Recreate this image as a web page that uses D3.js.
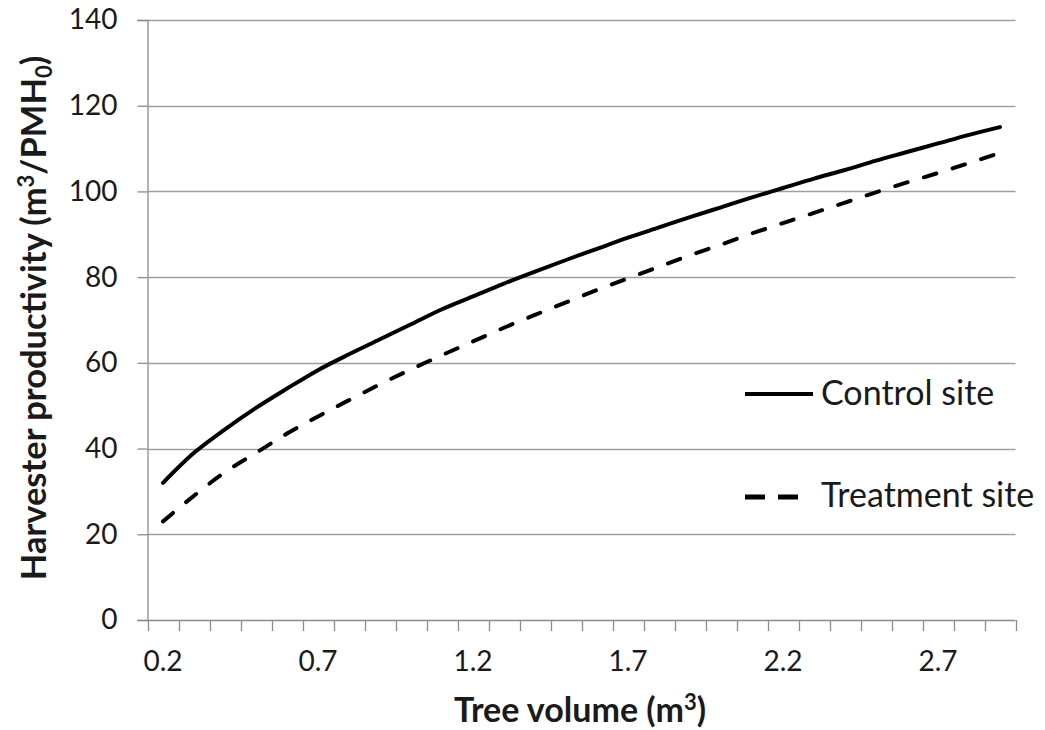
<!DOCTYPE html>
<html>
<head>
<meta charset="utf-8">
<script src="https://cdn.jsdelivr.net/npm/d3@7"></script>
<style>
  body { margin: 0; background: #fff; }
  text { font-family: Lato, "Open Sans", sans-serif; fill: #1a1a1a; }
</style>
</head>
<body>
<svg id="chart" width="1045" height="730"></svg>
<script>
const categories = ["0.2","0.3","0.4","0.5","0.6","0.7","0.8","0.9","1.0","1.1","1.2","1.3","1.4","1.5",
  "1.6","1.7","1.8","1.9","2.0","2.1","2.2","2.3","2.4","2.5","2.6","2.7","2.8","2.9"];
const xTickLabels = ["0.2","0.7","1.2","1.7","2.2","2.7"];
const controlSite = [32,39,44.5,49.5,54,58.3,62,65.5,69,72.5,75.5,78.5,81.3,84,86.6,89.2,91.6,94,96.3,98.6,100.8,103,105,107.2,109.2,111.2,113.2,115];
const treatmentSite = [23,29,34.5,39,43.5,47.5,51.3,55,58.5,61.8,65,68.2,71.2,74.1,77,79.7,82.4,85.1,87.6,90.2,92.6,95,97.4,99.8,102.1,104.3,106.6,109];
const yTicks = [0,20,40,60,80,100,120,140];

const svg = d3.select("#chart");
const L = 147.5, R = 1015.5, T = 20, B = 620;

const x = d3.scaleBand().domain(categories).range([L, R]);
const y = d3.scaleLinear().domain([0, 140]).range([B, T]);

// gridlines
svg.append("g").selectAll("line").data(yTicks.filter(d => d > 0)).join("line")
  .attr("x1", L).attr("x2", R)
  .attr("y1", d => Math.round(y(d)) + 0.5).attr("y2", d => Math.round(y(d)) + 0.5)
  .attr("stroke", "#a0a0a0").attr("stroke-width", 1.3);

// y axis
const yAxis = svg.append("g").attr("transform", `translate(${L},0)`)
  .call(d3.axisLeft(y).tickValues(yTicks).tickSize(10).tickPadding(20).tickFormat(d3.format("d")));
yAxis.select(".domain").attr("stroke", "#8c8c8c").attr("stroke-width", 1.3);
yAxis.selectAll(".tick line").attr("stroke", "#8c8c8c").attr("stroke-width", 1.3);
yAxis.selectAll(".tick text").attr("font-size", 28).attr("font-family", "Lato, 'Open Sans', sans-serif").attr("fill", "#1a1a1a");

// x axis: ticks at band boundaries
const xAxisG = svg.append("g").attr("transform", `translate(0,${B})`);
xAxisG.append("line").attr("x1", L).attr("x2", R).attr("y1", 0.5).attr("y2", 0.5)
  .attr("stroke", "#8c8c8c").attr("stroke-width", 1.3);
const boundaries = categories.map(c => x(c)).concat([x(categories[categories.length - 1]) + x.bandwidth()]);
xAxisG.selectAll("line.tk").data(boundaries).join("line").attr("class", "tk")
  .attr("x1", d => Math.round(d) + 0.5).attr("x2", d => Math.round(d) + 0.5)
  .attr("y1", 0).attr("y2", 11).attr("stroke", "#8c8c8c").attr("stroke-width", 1.3);
xAxisG.selectAll("text").data(xTickLabels).join("text")
  .attr("x", d => x(d) + x.bandwidth() / 2).attr("y", 51)
  .attr("text-anchor", "middle").attr("font-size", 28).text(d => d);

// lines
const line = d3.line().x((d, i) => x(categories[i]) + x.bandwidth() / 2).y(d => y(d)).curve(d3.curveMonotoneX);
svg.append("path").datum(controlSite).attr("d", line)
  .attr("fill", "none").attr("stroke", "#000").attr("stroke-width", 4).attr("stroke-linecap", "round");
svg.append("path").datum(treatmentSite).attr("d", line)
  .attr("fill", "none").attr("stroke", "#000").attr("stroke-width", 4)
  .attr("stroke-dasharray", "13,17").attr("stroke-linecap", "round");

// legend
const leg = svg.append("g");
leg.append("line").attr("x1", 745).attr("x2", 813).attr("y1", 394).attr("y2", 394)
  .attr("stroke", "#000").attr("stroke-width", 4);
leg.append("text").attr("x", 821).attr("y", 405).attr("font-size", 34).text("Control site");
leg.append("line").attr("x1", 745).attr("x2", 798).attr("y1", 497).attr("y2", 497)
  .attr("stroke", "#000").attr("stroke-width", 5).attr("stroke-dasharray", "20,13");
leg.append("text").attr("x", 821).attr("y", 507).attr("font-size", 34).text("Treatment site");

// axis titles
const xt = svg.append("text").attr("x", 580).attr("y", 722).attr("text-anchor", "middle")
  .attr("font-size", 34).attr("font-weight", "bold");
xt.append("tspan").text("Tree volume (m");
xt.append("tspan").attr("font-size", 22).attr("dy", -12).text("3");
xt.append("tspan").attr("dy", 12).text(")");

const yt = svg.append("text").attr("transform", "translate(46,318) rotate(-90)").attr("text-anchor", "middle")
  .attr("font-size", 34.5).attr("font-weight", "bold");
yt.append("tspan").text("Harvester productivity (m");
yt.append("tspan").attr("font-size", 22).attr("dy", -12).text("3");
yt.append("tspan").attr("dy", 12).text("/PMH");
yt.append("tspan").attr("font-size", 22).attr("dy", 6).text("0");
yt.append("tspan").attr("dy", -6).text(")");
</script>
</body>
</html>
